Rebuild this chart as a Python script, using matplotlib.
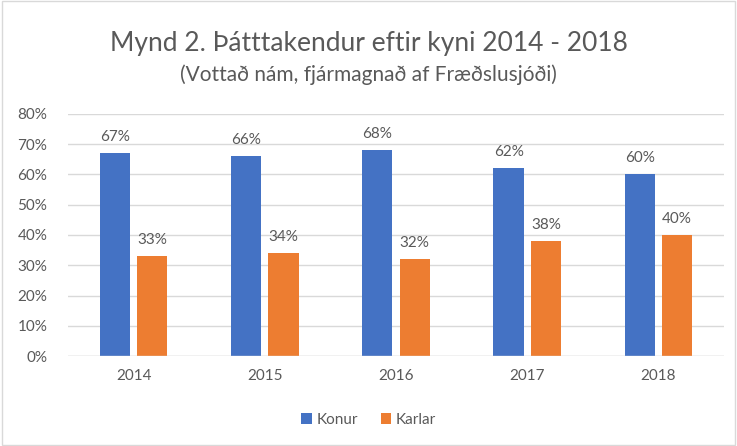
import numpy as np
import matplotlib.pyplot as plt
from matplotlib.patches import Rectangle

years = ['2014', '2015', '2016', '2017', '2018']
konur = [67, 66, 68, 62, 60]
karlar = [33, 34, 32, 38, 40]

plt.rcParams['font.family'] = ['Lato', 'DejaVu Sans']
txt = '#595959'

fig = plt.figure(figsize=(7.37, 4.46), dpi=100)
ax = fig.add_axes([68 / 737, 1 - 356 / 446, 656 / 737, 242 / 446])

x = np.arange(len(years))
w = 0.23
b1 = ax.bar(x - 0.027 - w / 2, konur, w, color='#4472C4', label='Konur')
b2 = ax.bar(x + 0.027 + w / 2, karlar, w, color='#ED7D31', label='Karlar')
for bars, vals in ((b1, konur), (b2, karlar)):
    for r, v in zip(bars, vals):
        ax.text(r.get_x() + r.get_width() / 2, v + 3, f'{v}%', ha='center',
                va='bottom', fontsize=11, color=txt)

ax.set_xlim(-0.5, 4.5)
ax.set_ylim(0, 80)
ax.set_yticks(range(0, 81, 10))
ax.set_yticklabels([f'{t}%' for t in range(0, 81, 10)])
ax.set_xticks(x)
ax.set_xticklabels(years)
ax.tick_params(length=0, labelsize=11, colors=txt)
ax.tick_params(axis='y', pad=15)
ax.tick_params(axis='x', pad=9)
ax.grid(axis='y', color='#D9D9D9', linewidth=1)
ax.set_axisbelow(True)
for s in ax.spines.values():
    s.set_visible(False)
ax.axhline(0, color='#D9D9D9', linewidth=1)

fig.text(0.5, 1 - 44 / 446, 'Mynd 2. Þátttakendur eftir kyni 2014 - 2018',
         ha='center', va='center', fontsize=19, color=txt)
fig.text(0.5, 1 - 75 / 446, '(Vottað nám, fjármagnað af Fræðslusjóði)',
         ha='center', va='center', fontsize=15, color=txt)

fig.legend(loc='center', bbox_to_anchor=(0.5, 1 - 420 / 446), ncol=2,
           frameon=False, fontsize=11, labelcolor=txt, handlelength=0.7,
           handleheight=0.7, columnspacing=1.5, handletextpad=0.3)

fig.patches.append(Rectangle((0.003, 0.003), 0.994, 0.994, transform=fig.transFigure,
                             fill=False, edgecolor='#D9D9D9', linewidth=1))

fig.savefig('out.png', dpi=100)
